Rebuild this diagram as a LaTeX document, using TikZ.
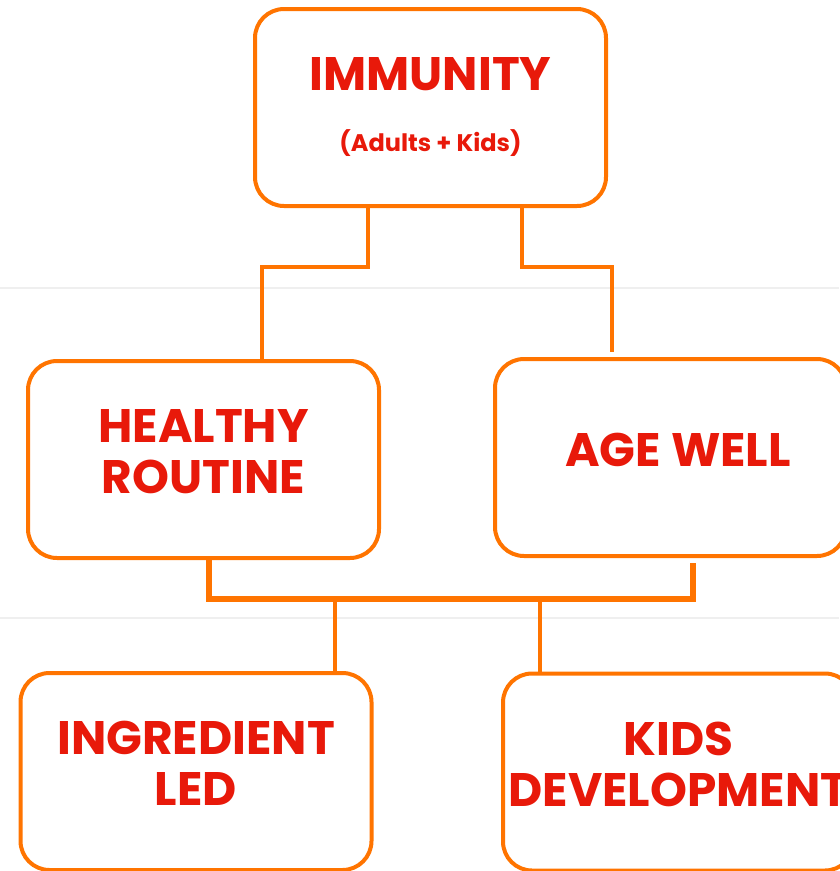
\documentclass[tikz,border=0pt]{standalone}
\usepackage{fontspec}
\setmainfont{Poppins}
\usetikzlibrary{positioning}
\definecolor{bordure}{HTML}{FF7400}
\definecolor{titre}{HTML}{E8190A}
\definecolor{fond}{HTML}{EFEFEF}
\begin{document}
\begin{tikzpicture}[x=1pt, y=-1pt, node distance=352pt]
    \tikzset{ block/.style={rectangle,draw=bordure,fill=white,line width=4pt,rounded corners=29pt,minimum width=351pt,minimum height=197pt,align=center,
                text=titre,font=\bfseries\fontsize{47}{51}\selectfont,text depth=16pt},
            link/.style={draw=bordure, line width=4.5pt}}
    \useasboundingbox (0,0) rectangle (839,871);

    % Lignes de fond
    \draw[fond, line width=1.5pt] (0,288) -- (839,288);
    \draw[fond, line width=1.5pt] (0,618) -- (839,618);

    \node[block, text depth=6pt] (imm) at (430.5,107.5) {IMMUNITY\\[9.7pt]{\fontsize{24}{28}\selectfont (Adults + Kids)}};
    \node[block, below of = imm, xshift=-227pt] (routine) {HEALTHY\\ROUTINE};
    \node[block, below of = imm, xshift=240pt, yshift=2pt] (agewell) {\hspace*{15pt}AGE WELL};
    \node[block, below of = routine, xshift=-7.5pt, yshift=40pt] (ingr) {INGREDIENT\\LED};
    \node[block, below of = agewell, xshift=8pt, yshift=37.5pt] (kids) {KIDS\\DEVELOPMENT};

    % Liaisons
    \coordinate (haut) at (0,267);
    \coordinate (bas) at (0,599);
    \draw[link] ([xshift=-62.5pt]imm.south) -- ([xshift=-62.5pt]imm.south |- haut) -| ([xshift=58.5pt]routine.north);
    \draw[link, shorten >=5pt] ([xshift=91.5pt]imm.south) -- ([xshift=91.5pt]imm.south |- haut) -| ([xshift=-58.5pt]agewell.north);
    \draw[link, line width=5.5pt, shorten >=5pt] ([xshift=5.5pt]routine.south) -- ([xshift=5.5pt]routine.south |- bas) -| ([xshift=22.5pt]agewell.south);
    \draw[link] ([xshift=139pt]ingr.north) -- ([xshift=139pt]ingr.north |- bas);
    \draw[link] ([xshift=-138.5pt]kids.north) -- ([xshift=-138.5pt]kids.north |- bas);

\end{tikzpicture}
\end{document}
